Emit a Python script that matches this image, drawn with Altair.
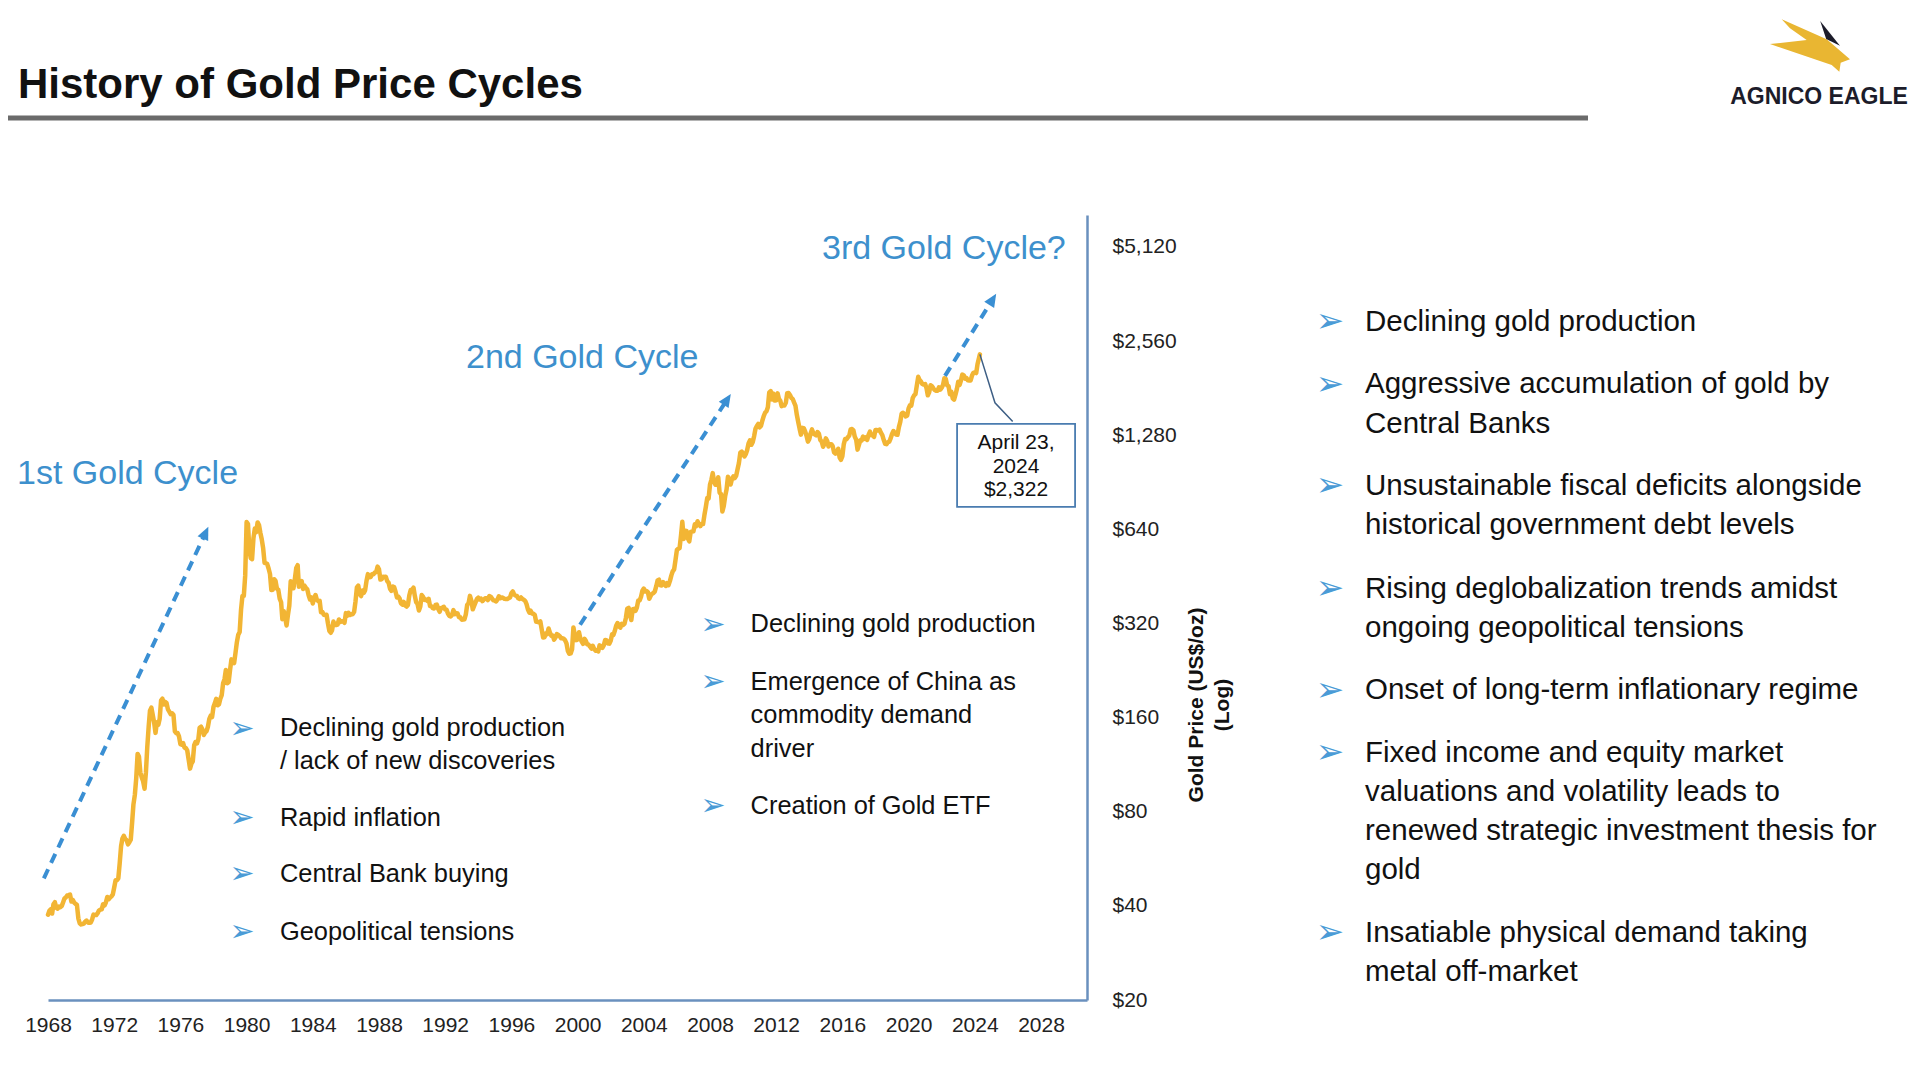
import altair as alt
import pandas as pd

# ------------------------------------------------------------------ data
# Gold price, US$/oz, monthly (Jan 1968 ... Apr 2024)
gold_1968_1979 = [
    37.5, 38.6, 39.0, 37.8, 40.5, 41.1, 39.5, 39.2, 39.8, 39.6, 40.0, 41.1,
    42.3, 42.6, 43.2, 43.3, 43.5, 41.3, 41.8, 41.0, 40.6, 40.3, 36.5, 35.2,
    34.9, 35.0, 35.1, 35.6, 35.9, 35.4, 35.3, 35.4, 36.2, 37.5, 37.4, 37.4,
    37.9, 38.7, 38.9, 39.0, 40.5, 40.1, 41.0, 42.7, 42.0, 42.5, 42.9, 43.5,
    45.8, 48.3, 48.3, 49.0, 54.6, 62.1, 65.7, 67.0, 65.5, 64.9, 62.9, 63.9,
    65.1, 74.2, 84.4, 90.5, 102.0, 122.5, 120.2, 106.8, 103.0, 100.1, 94.8, 106.7,
    129.2, 150.2, 168.4, 172.2, 163.3, 154.1, 143.0, 154.6, 151.8, 158.8, 181.7, 183.9,
    176.3, 179.6, 178.2, 170.0, 167.2, 164.2, 165.2, 163.1, 144.6, 142.8, 142.8, 139.3,
    131.6, 131.0, 132.6, 128.2, 128.0, 125.5, 117.7, 109.9, 114.0, 116.0, 130.6, 133.7,
    132.3, 136.4, 148.4, 149.6, 146.8, 140.8, 143.4, 144.9, 149.9, 158.6, 162.5, 160.7,
    173.2, 178.1, 183.7, 175.2, 176.3, 183.8, 188.7, 206.1, 212.4, 227.3, 206.0, 207.8,
    227.3, 245.7, 242.1, 239.2, 257.6, 279.1, 294.7, 300.8, 355.1, 391.7, 392.5, 455.1,
]
gold_1980s = [
    675.3, 665.3, 553.6, 517.4, 513.8, 600.7, 644.3, 626.5, 673.6, 661.2, 623.5, 594.9,
    557.2, 500.4, 498.8, 495.8, 479.7, 460.8, 409.3, 410.1, 443.6, 437.8, 413.4, 410.1,
    384.3, 374.2, 330.2, 350.5, 334.0, 315.5, 340.0, 364.9, 436.8, 422.6, 414.9, 444.2,
    481.6, 491.6, 419.2, 432.5, 437.3, 412.7, 422.9, 416.2, 411.8, 393.6, 381.8, 388.0,
    370.9, 386.4, 394.7, 381.1, 377.4, 378.0, 347.5, 348.3, 341.1, 340.2, 341.2, 320.2,
    303.0, 298.9, 304.0, 324.6, 316.5, 316.6, 317.4, 329.7, 323.6, 325.2, 325.3, 321.7,
    345.4, 339.0, 346.0, 340.6, 342.5, 342.7, 348.4, 376.7, 417.7, 423.2, 397.4, 391.6,
    407.9, 400.9, 408.9, 438.5, 460.2, 449.6, 450.4, 460.1, 460.2, 465.5, 467.8, 486.3,
    477.0, 442.1, 443.6, 451.6, 451.1, 451.1, 437.2, 431.8, 413.4, 406.9, 420.2, 418.6,
    404.3, 387.8, 390.2, 384.3, 371.0, 367.6, 375.0, 365.4, 362.6, 366.9, 393.9, 409.4,
]
gold_1990s = [
    410.1, 416.8, 393.1, 374.3, 369.4, 352.3, 362.5, 394.8, 389.3, 380.7, 381.6, 378.2,
    383.6, 363.8, 363.3, 358.4, 357.4, 366.7, 367.8, 356.2, 348.7, 358.6, 359.9, 361.7,
    354.5, 353.9, 344.3, 338.6, 337.2, 340.8, 353.1, 342.9, 345.4, 344.4, 335.0, 334.8,
    329.0, 329.3, 330.1, 342.2, 367.2, 371.9, 392.2, 378.8, 355.3, 364.2, 373.8, 383.3,
    386.9, 381.9, 384.1, 377.3, 381.4, 385.6, 385.5, 380.4, 391.6, 389.8, 384.4, 379.3,
    378.6, 376.5, 382.1, 391.0, 385.3, 387.6, 386.2, 383.7, 383.1, 383.0, 385.5, 387.4,
    400.0, 405.0, 396.2, 392.9, 392.0, 385.3, 383.5, 387.5, 383.1, 381.1, 377.9, 369.2,
    354.6, 346.6, 351.8, 344.5, 343.8, 340.8, 324.1, 324.0, 322.8, 324.9, 306.0, 288.7,
    289.1, 297.5, 295.9, 308.4, 299.1, 292.3, 292.9, 284.1, 289.0, 296.1, 294.1, 291.6,
    287.1, 287.3, 285.9, 282.6, 276.4, 261.3, 256.1, 256.7, 264.7, 310.7, 293.2, 283.1,
]
gold_2000s = [
    284.6, 299.9, 286.4, 280.0, 275.3, 285.7, 281.6, 274.5, 273.7, 270.0, 266.0, 271.5,
    265.5, 261.9, 263.0, 260.5, 272.4, 270.2, 267.5, 272.4, 283.4, 283.1, 276.2, 275.9,
    281.7, 295.5, 294.0, 302.7, 314.5, 321.2, 313.3, 310.3, 319.2, 316.6, 319.2, 332.8,
    356.9, 359.0, 340.6, 328.2, 355.7, 356.4, 351.0, 359.8, 379.0, 378.9, 389.9, 407.6,
    414.0, 405.3, 406.7, 403.0, 383.8, 392.4, 398.1, 400.5, 405.3, 420.5, 439.4, 441.8,
    424.0, 423.4, 434.3, 429.2, 421.9, 430.7, 424.5, 437.9, 456.0, 469.9, 476.7, 510.1,
    549.9, 555.0, 557.1, 610.6, 676.5, 596.2, 633.7, 632.6, 598.2, 585.8, 627.8, 629.8,
    631.2, 664.8, 654.9, 679.4, 666.9, 655.5, 665.3, 665.4, 712.7, 754.6, 806.3, 803.2,
    889.6, 922.3, 968.4, 909.7, 888.7, 889.5, 939.8, 839.0, 829.9, 730.0, 760.9, 816.1,
    858.7, 943.2, 924.3, 890.2, 928.6, 945.7, 934.2, 949.4, 996.6, 1043.2, 1127.0, 1134.7,
]
gold_2010s = [
    1117.9, 1095.4, 1113.3, 1148.7, 1205.4, 1232.9, 1192.9, 1215.8, 1271.1, 1342.0, 1369.9, 1390.6,
    1356.4, 1372.7, 1424.0, 1473.8, 1510.4, 1528.7, 1572.8, 1755.8, 1771.9, 1665.2, 1738.9, 1652.2,
    1656.1, 1742.6, 1673.8, 1650.1, 1585.5, 1596.7, 1593.9, 1626.0, 1744.5, 1746.6, 1721.6, 1684.8,
    1671.9, 1627.6, 1593.1, 1487.9, 1414.0, 1343.4, 1285.5, 1351.7, 1348.6, 1316.6, 1275.8, 1221.5,
    1244.3, 1300.0, 1336.1, 1299.0, 1287.5, 1279.1, 1310.6, 1295.1, 1236.6, 1222.5, 1176.3, 1200.6,
    1250.8, 1227.1, 1178.6, 1198.9, 1198.6, 1181.5, 1128.3, 1117.9, 1124.8, 1159.3, 1086.4, 1068.3,
    1097.9, 1199.5, 1245.1, 1242.3, 1260.9, 1276.4, 1336.7, 1340.2, 1326.6, 1266.6, 1238.4, 1151.4,
    1192.1, 1234.2, 1231.4, 1266.9, 1246.0, 1260.3, 1236.8, 1283.0, 1314.1, 1279.5, 1281.9, 1264.5,
    1331.3, 1330.7, 1324.7, 1334.8, 1303.5, 1281.6, 1237.7, 1201.7, 1198.4, 1215.4, 1220.7, 1250.4,
    1291.8, 1320.1, 1300.9, 1285.9, 1283.7, 1359.0, 1412.9, 1500.4, 1510.6, 1494.8, 1470.0, 1479.1,
]
gold_2020s = [
    1560.7, 1597.1, 1591.9, 1683.2, 1715.9, 1732.2, 1846.5, 1968.6, 1921.9, 1900.3, 1866.3, 1858.4,
    1867.0, 1808.2, 1718.2, 1760.0, 1850.3, 1834.6, 1807.8, 1785.3, 1775.1, 1776.9, 1821.2, 1790.3,
    1816.0, 1856.3, 1947.8, 1936.7, 1848.5, 1836.6, 1732.7, 1764.6, 1680.6, 1664.5, 1725.1, 1797.6,
    1897.9, 1854.6, 1912.7, 2000.4, 1991.8, 1942.9, 1951.0, 1918.7, 1915.5, 1916.5, 1985.8, 2026.6,
    2033.9, 2023.2, 2158.9, 2322.0,
]
FIRST_MONTH = "1968-01-01"
LAST_DATE = "2024-04-23"

year_ticks = list(range(1968, 2029, 4))
price_ticks = [20, 40, 80, 160, 320, 640, 1280, 2560, 5120]

# cycle arrows (start -> end), in (year, US$/oz)
arrow_start_year = [1967.75, 2000.15, 2022.2]
arrow_start_price = [49, 317, 1982]
arrow_end_year = [1977.49, 2009.0, 2025.04]
arrow_end_price = [619, 1653, 3454]

cycle_labels = ["1st Gold Cycle", "2nd Gold Cycle", "3rd Gold Cycle?"]

# callout for last price
callout_lines = ["April 23,", "2024", "$2,322"]
leader_year = [2024.31, 2025.22, 2026.29]
leader_price = [2322, 1626, 1416]
box_year = [2022.93, 2030.06]
box_price = [755, 1392]

left_bullets = [
    ["Declining gold production", "/ lack of new discoveries"],
    ["Rapid inflation"],
    ["Central Bank buying"],
    ["Geopolitical tensions"],
]
mid_bullets = [
    ["Declining gold production"],
    ["Emergence of China as", "commodity demand", "driver"],
    ["Creation of Gold ETF"],
]
right_bullets = [
    ["Declining gold production"],
    ["Aggressive accumulation of gold by", "Central Banks"],
    ["Unsustainable fiscal deficits alongside", "historical government debt levels"],
    ["Rising deglobalization trends amidst", "ongoing geopolitical tensions"],
    ["Onset of long-term inflationary regime"],
    ["Fixed income and equity market", "valuations and volatility leads to",
     "renewed strategic investment thesis for", "gold"],
    ["Insatiable physical demand taking", "metal off-market"],
]

# ------------------------------------------------------------------ frames
prices = gold_1968_1979 + gold_1980s + gold_1990s + gold_2000s + gold_2010s + gold_2020s
dates = list(pd.date_range(FIRST_MONTH, periods=len(prices), freq="MS"))
dates[-1] = pd.Timestamp(LAST_DATE)
dates = pd.DatetimeIndex(dates)
dec_year = dates.year + (dates.dayofyear - 1) / (365 + dates.is_leap_year.astype(int))
gold_df = pd.DataFrame({"year": dec_year, "price": prices})

arrow_df = pd.DataFrame({
    "arrow": [0, 1, 2, 0, 1, 2],
    "year": arrow_start_year + arrow_end_year,
    "price": arrow_start_price + arrow_end_price,
})
heads_df = pd.DataFrame({"year": arrow_end_year, "price": arrow_end_price,
                         "angle": [25.0, 33.2, 32.5]})
leader_df = pd.DataFrame({"year": leader_year, "price": leader_price})
box_df = pd.DataFrame({"x": [box_year[0]], "x2": [box_year[1]],
                       "y": [box_price[1]], "y2": [box_price[0]]})

# ------------------------------------------------------------------ style
SANS = "Liberation Sans, Arial, Helvetica, sans-serif"
GOLD = "#f2b534"
BLUE = "#3d90cd"
ARROW_BLUE = "#3a8fd3"
BULLET_BLUE = "#4a9bd6"
AXIS_BLUE = "#6a90be"
INK = "#111111"
W, H = 1039, 785
X_DOMAIN = [1968, 2030.78]
Y_DOMAIN = [20, 6480]

x_axis = alt.Axis(values=year_ticks, format="d", title=None, grid=False, ticks=False,
                  tickSize=0, labelPadding=14, labelFont=SANS, labelFontSize=21,
                  labelColor="#222222", labelFlush=False, labelOverlap=False,
                  domainColor=AXIS_BLUE, domainWidth=2.5)
y_axis = alt.Axis(orient="right", values=price_ticks,
                  labelExpr="'$' + format(datum.value, ',')", title=None, grid=False,
                  ticks=False, tickSize=0, labelPadding=25, labelFont=SANS,
                  labelFontSize=21, labelColor="#222222", labelFlush=False,
                  labelOverlap=False, domainColor=AXIS_BLUE, domainWidth=2.5)


def X(field):
    return alt.X(field, type="quantitative",
                 scale=alt.Scale(domain=X_DOMAIN, nice=False, zero=False), axis=x_axis)


def Y(field):
    return alt.Y(field, type="quantitative",
                 scale=alt.Scale(type="log", base=2, domain=Y_DOMAIN, nice=False), axis=y_axis)


BLANK = alt.Data(values=[{}])


def label(lines, x, y_mid, size, color=INK, weight="normal", align="left",
          angle=None, lh=None, font=SANS, baseline="alphabetic"):
    kw = dict(text=lines if len(lines) > 1 else lines[0], font=font, fontSize=size,
              fontWeight=weight, color=color, align=align, baseline=baseline)
    if len(lines) > 1:
        kw["lineHeight"] = lh
    if angle is not None:
        kw["angle"] = angle
    y = y_mid + 0.3 * size if baseline == "alphabetic" else y_mid
    return alt.Chart(BLANK).mark_text(**kw).encode(x=alt.value(x), y=alt.value(y))


def bullet_list(items, first_line_y, text_x, bullet_x, size, lh, bsize):
    out = []
    for item, y in zip(items, first_line_y):
        out.append(label(["\u27a2"], bullet_x, y, bsize, color=BULLET_BLUE,
                         align="center", font="DejaVu Sans", baseline="middle"))
        out.append(label(item, text_x, y, size, lh=lh))
    return out


layers = []

# main price line
layers.append(alt.Chart(gold_df).mark_line(color=GOLD, strokeWidth=4.5, strokeJoin="round",
                                           strokeCap="round").encode(x=X("year"), y=Y("price")))
# dashed cycle arrows
layers.append(alt.Chart(arrow_df).mark_line(color=ARROW_BLUE, strokeWidth=4,
                                            strokeDash=[10, 7]).encode(
    x=X("year"), y=Y("price"), detail="arrow:N"))
layers.append(alt.Chart(heads_df).mark_point(
    shape="M0,-0.6L0.45,0.4L-0.45,0.4Z", filled=True, color=ARROW_BLUE, opacity=1,
    size=676, strokeWidth=0).encode(x=X("year"), y=Y("price"),
                                    angle=alt.Angle("angle:Q", scale=None)))
# callout
layers.append(alt.Chart(leader_df).mark_line(color="#3e5f85", strokeWidth=1.5).encode(
    x=X("year"), y=Y("price")))
layers.append(alt.Chart(box_df).mark_rect(fill="white", stroke="#4a7cb0", strokeWidth=1.8).encode(
    x=X("x"), x2=alt.X2("x2"), y=Y("y"), y2=alt.Y2("y2")))
layers.append(label(callout_lines, 968, 228, 21, align="center", lh=23.5))

# cycle labels
layers.append(label([cycle_labels[0]], -31, 259, 34, color=BLUE))
layers.append(label([cycle_labels[1]], 418, 143, 34, color=BLUE))
layers.append(label([cycle_labels[2]], 774, 34, 34, color=BLUE))

# y-axis title (rotated)
layers.append(label(["Gold Price (US$/oz)"], 1149, 490, 21, weight="bold", align="center",
                    angle=270, baseline="middle"))
layers.append(label(["(Log)"], 1175, 490, 21, weight="bold", align="center",
                    angle=270, baseline="middle"))

# bullet lists
layers += bullet_list(left_bullets, [513.6, 603, 659, 717], 232, 194, 25.4, 33, 30)
layers += bullet_list(mid_bullets, [409.5, 467, 591], 702.6, 665, 25.4, 33.5, 30)
layers += bullet_list(right_bullets, [107, 169.5, 271, 374, 475.6, 538, 718],
                      1317, 1282, 29.5, 39.2, 34)

# header
layers.append(label(["History of Gold Price Cycles"], -30, -130, 42, weight="bold"))
layers.append(alt.Chart(BLANK).mark_rule(color="#6b6b6b", strokeWidth=5).encode(
    x=alt.value(-40), x2=alt.value(1540), y=alt.value(-97)))

# logo
EAGLE = ("M-0.635,-0.597L0.412,-0.133L0.953,0.333L0.737,0.412L0.705,0.62L0.528,0.465"
         "L-0.907,-0.023L-0.054,-0.116L-0.442,-0.388Z")
BEAK = "M0.26,-0.56L0.72,0.02L0.40,-0.14Z"
layers.append(alt.Chart(BLANK).mark_point(shape=EAGLE, filled=True, color="#e9b632", opacity=1,
                                          size=7396, strokeWidth=0).encode(
    x=alt.value(1761), y=alt.value(-170)))
layers.append(alt.Chart(BLANK).mark_point(shape=BEAK, filled=True, color="#1c1c2a", opacity=1,
                                          size=7396, strokeWidth=0).encode(
    x=alt.value(1761), y=alt.value(-170)))
layers.append(label(["AGNICO EAGLE"], 1771, -118, 23, weight="bold", align="center",
                    color="#1c1c2a"))

chart = alt.layer(*layers).properties(
    width=W, height=H,
    autosize=alt.AutoSizeParams(type="none"),
    padding={"left": 40, "top": 207, "right": 821, "bottom": 55},
    background="white",
).configure_view(stroke=None)

chart.save("out.html", embed_options={"renderer": "svg", "actions": False})
